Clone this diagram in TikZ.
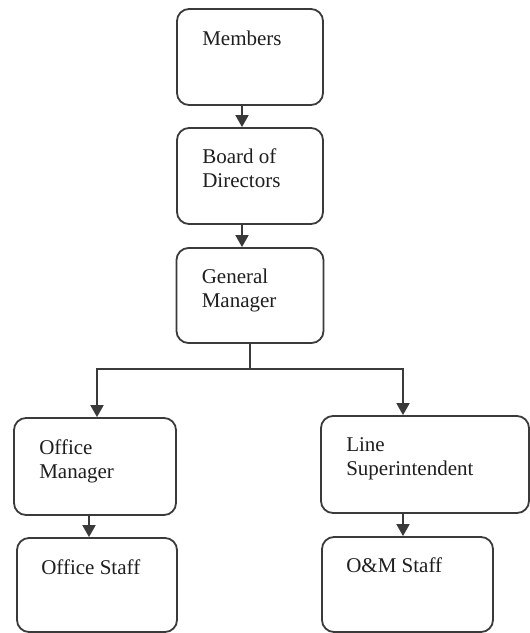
\documentclass[tikz,border=0pt]{standalone}
\usepackage{fontspec}
\setmainfont{Liberation Serif}
\usetikzlibrary{arrows.meta,calc}
\definecolor{linec}{HTML}{3A3A3A}
\definecolor{textc}{HTML}{1E1E1E}
\begin{document}
\begin{tikzpicture}[x=1pt,y=-1pt,
  box/.style 2 args={draw=linec, line width=1.8pt, rounded corners=12pt,
    minimum width=#1, minimum height=#2, inner sep=0pt},
  txt/.style={anchor=base west, inner sep=0pt, text=textc,
    font=\fontsize{21}{24}\selectfont},
  conn/.style={draw=linec, line width=1.8pt},
  arr/.style={conn, -{Triangle[width=13pt,length=12pt]}}]
\useasboundingbox (0,0) rectangle (530,633);

% boxes
\node[box={146pt}{96pt}] (mem) at (250,57) {};
\node[box={146pt}{96pt}] (bod) at (250,176) {};
\node[box={147pt}{95pt}] (gm)  at (250,295.5) {};
\node[box={162pt}{97pt}] (om)  at (95,466.5) {};
\node[box={160pt}{94pt}] (os)  at (97,585) {};
\node[box={208pt}{97pt}] (ls)  at (425,464.5) {};
\node[box={171pt}{95pt}] (oms) at (407.5,584.5) {};

% texts
\node[txt] (memT) at ([xshift=26pt,yshift=-37pt]mem.north west) {Members};
\node[txt] (bodT) at ([xshift=26pt,yshift=-36pt]bod.north west) {\parbox[t]{110pt}{Board of\\Directors}};
\node[txt] (gmT)  at ([xshift=26pt,yshift=-36pt]gm.north west) {\parbox[t]{110pt}{General\\Manager}};
\node[txt] (omT)  at ([xshift=26pt,yshift=-37pt]om.north west) {\parbox[t]{120pt}{Office\\Manager}};
\node[txt] (osT)  at ([xshift=25pt,yshift=-37pt]os.north west) {Office Staff};
\node[txt] (lsT)  at ([xshift=26pt,yshift=-36pt]ls.north west) {\parbox[t]{170pt}{Line\\Superintendent}};
\node[txt] (omsT) at ([xshift=25pt,yshift=-36pt]oms.north west) {O\&M Staff};

% connector x positions
\coordinate (xa) at (242,0);
\coordinate (xl) at (97,0);
\coordinate (xr) at (403,0);
\coordinate (xo) at (89,0);
\coordinate (j)  at (250,369);

\draw[arr] (mem.south -| xa) -- (bod.north -| xa);
\draw[arr] (bod.south -| xa) -- (gm.north -| xa);
\draw[conn] (gm.south) -- (j);
\draw[arr] (j) -| (om.north -| xl);
\draw[arr] (j) -| (ls.north -| xr);
\draw[arr] (om.south -| xo) -- (os.north -| xo);
\draw[arr] (ls.south -| xr) -- (oms.north -| xr);
\end{tikzpicture}
\end{document}
